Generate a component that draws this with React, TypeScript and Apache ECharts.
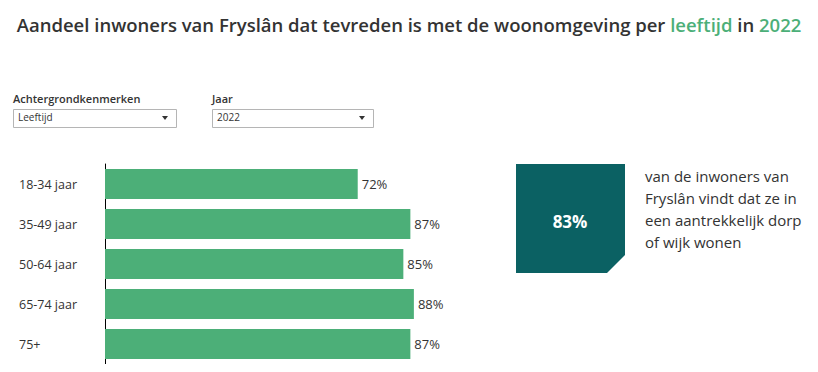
import React, { useEffect, useRef } from "react";
import * as echarts from "echarts";

const categories = ["18-34 jaar", "35-49 jaar", "50-64 jaar", "65-74 jaar", "75+"];
const values = [72, 87, 85, 88, 87];
const kpiValue = "83%";
const kpiText = ["van de inwoners van", "Fryslân vindt dat ze in", "een aantrekkelijk dorp", "of wijk wonen"];
const titleParts = ["Aandeel inwoners van Fryslân dat tevreden is met de woonomgeving per ", "leeftijd", " in ", "2022"];
const filterLabels = ["Achtergrondkenmerken", "Jaar"];
const filterValues = ["Leeftijd", "2022"];

const GREEN = "#4caf78";
const TEAL = "#0b6163";
const TEXT = "#333333";
const FONT = "'Open Sans', 'Noto Sans', sans-serif";

export default function App() {
  const ref = useRef<HTMLDivElement>(null);
  useEffect(() => {
    if (!ref.current) return;
    const chart = echarts.init(ref.current, null, { renderer: "svg" });

    const dropdown = (x: number, w: number, label: string, value: string) => ({
      type: "group",
      children: [
        { type: "text", x, y: 93, style: { text: label, fontFamily: FONT, fontSize: 11, fontWeight: 600, fill: TEXT } },
        { type: "rect", shape: { x: x + 0.5, y: 109.5, width: w, height: 18 }, style: { fill: "#fff", stroke: "#b5b5b5", lineWidth: 1 } },
        { type: "text", x: x + 5, y: 112, style: { text: value, fontFamily: FONT, fontSize: 10, fill: TEXT } },
        { type: "polygon", shape: { points: [[x + w - 14, 116], [x + w - 8, 116], [x + w - 11, 120]] }, style: { fill: "#333" } },
      ],
    });

    chart.setOption({
      animation: false,
      textStyle: { fontFamily: FONT },
      title: {
        left: "center",
        top: 10,
        text: `{a|${titleParts[0]}}{g|${titleParts[1]}}{a|${titleParts[2]}}{g|${titleParts[3]}}`,
        textStyle: {
          rich: {
            a: { fontFamily: FONT, fontSize: 18.5, fontWeight: 600, color: TEXT },
            g: { fontFamily: FONT, fontSize: 18.5, fontWeight: 600, color: GREEN },
          },
        },
      },
      grid: { left: 105, top: 164, width: 351, height: 200, containLabel: false },
      xAxis: { type: "value", min: 0, max: 100, show: false },
      yAxis: {
        type: "category",
        data: categories,
        inverse: true,
        axisLine: { show: true, lineStyle: { color: "#000", width: 1 } },
        axisTick: { show: false },
        axisLabel: { align: "left", margin: 86, fontSize: 12.5, color: TEXT, fontFamily: FONT },
      },
      series: [
        {
          type: "bar",
          data: values,
          barCategoryGap: "25%",
          itemStyle: { color: GREEN },
          label: { show: true, position: "right", distance: 4, formatter: "{c}%", fontSize: 13, color: TEXT, fontFamily: FONT },
        },
      ],
      graphic: [
        dropdown(13, 163, filterLabels[0], filterValues[0]),
        dropdown(212, 161, filterLabels[1], filterValues[1]),
        {
          type: "polygon",
          shape: { points: [[516, 164], [625, 164], [625, 255], [607, 273], [516, 273]] },
          style: { fill: TEAL },
        },
        {
          type: "text",
          x: 570,
          y: 221,
          style: { text: kpiValue, fontFamily: FONT, fontSize: 17, fontWeight: 700, fill: "#fff", align: "center", verticalAlign: "middle" },
        },
        ...kpiText.map((t, i) => ({
          type: "text",
          x: 645,
          y: 176 + i * 22,
          style: { text: t, fontFamily: FONT, fontSize: 15, fill: TEXT, verticalAlign: "middle" },
        })),
      ],
    });
    return () => chart.dispose();
  }, []);
  return <div ref={ref} style={{ width: 818, height: 372, margin: -8 }} />;
}
